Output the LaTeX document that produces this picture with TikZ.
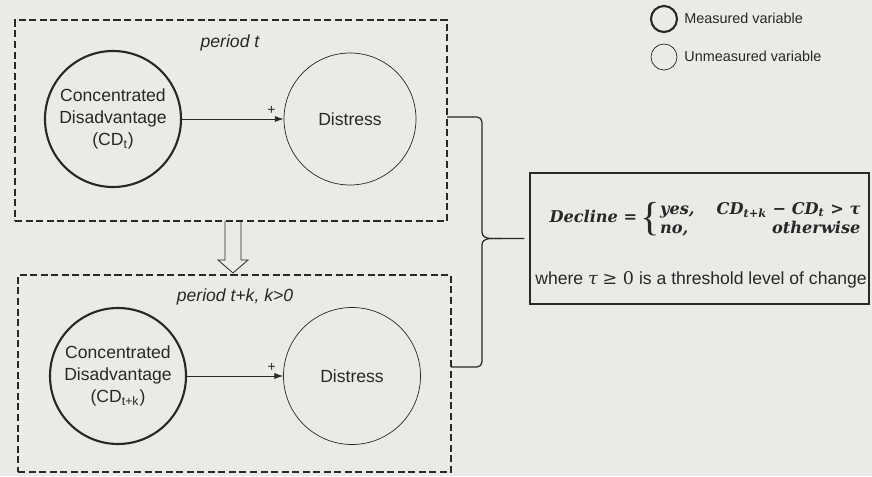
\documentclass[tikz,border=0pt]{standalone}
\usepackage{fontspec}
\setmainfont{Liberation Sans}
\newfontfamily\eqfont{DejaVu Serif}
\newfontfamily\bracefont{Liberation Serif}
\usetikzlibrary{arrows.meta}
\definecolor{paper}{RGB}{234,234,231}
\definecolor{ink}{RGB}{40,40,40}
\newcommand{\declineformula}{\fontsize{9.2}{11}\selectfont
  {\eqfont\bfseries\itshape Decline =}\hspace{2pt}%
  \raisebox{-4pt}{\bracefont\fontsize{23}{23}\selectfont\{}%
  \parbox[c]{114pt}{\eqfont\bfseries\itshape\baselineskip=11pt
    yes,\hfill CD\textsubscript{t+k} − CD\textsubscript{t} > τ\par
    no,\hfill otherwise}}
\tikzset{
  measured/.style={circle, draw=ink, line width=1.2pt, inner sep=0pt, align=center, text=ink},
  unmeasured/.style={circle, draw=ink, line width=0.4pt, inner sep=0pt, align=center, text=ink},
  periodbox/.style={draw=ink, line width=0.7pt, dash pattern=on 4pt off 2pt},
  rulebox/.style={draw=ink, line width=0.7pt},
  link/.style={draw=ink, line width=0.5pt, -{Latex[length=5pt,width=3.5pt]}},
  bracelink/.style={draw=ink, line width=0.7pt},
  blockarrow/.style={draw=ink, line width=0.45pt}
}
\begin{document}
\begin{tikzpicture}
        \useasboundingbox[fill=paper] (0,0) rectangle (17.440000,9.520000);
        {\fontsize{10}{12.5}\selectfont

        % Drawing box of period t
        \node [periodbox, minimum width=8.640000cm, minimum height=4.020000cm] (boxT) at (4.620000,7.110000) {};%
        \node [text=ink] (periodT) at (4.600000,8.660000) {\itshape period t};%

        % Marking variables of period t
        \node [measured, minimum size=2.720000cm] (cdT) at (2.260000,7.140000) {Concentrated\\Disadvantage\\(CD\textsubscript{t})};%
        \node [unmeasured, minimum size=2.640000cm] (distT) at (7.000000,7.140000) {Distress};%
        \draw [link] (cdT) -- (distT) node [pos=0.88, above, text=ink, inner sep=2.5pt] (plusT) {\footnotesize +};%

        % Drawing arrow from period t to period t+k
        \coordinate (arrTop) at (4.660000,5.100000);%
        \draw [blockarrow] (arrTop) ++(-0.160000,0) -- ++(0,-0.780000) -- ++(-0.140000,0) -- ++(0.300000,-0.260000) -- ++(0.300000,0.260000) -- ++(-0.140000,0) -- ++(0,0.780000);%

        % Drawing box of period t+k
        \node [periodbox, minimum width=8.660000cm, minimum height=3.940000cm] (boxK) at (4.690000,2.050000) {};%
        \node [text=ink] (periodK) at (4.700000,3.580000) {\itshape period t+k, k>0};%

        % Marking variables of period t+k
        \node [measured, minimum size=2.720000cm] (cdK) at (2.360000,2.000000) {Concentrated\\Disadvantage\\(CD\textsubscript{t+k})};%
        \node [unmeasured, minimum size=2.740000cm] (distK) at (7.040000,2.000000) {Distress};%
        \draw [link] (cdK) -- (distK) node [pos=0.88, above, text=ink, inner sep=2.5pt] (plusK) {\footnotesize +};%

        % Drawing rule box of decline
        \node [rulebox, minimum width=6.780000cm, minimum height=2.620000cm] (declineBox) at (13.990000,4.750000) {};%
        \node [text=ink, inner sep=0pt] (declineRule) at (14.100000,5.140000) {\declineformula};%
        \node [text=ink] (declineNote) at (14.020000,3.920000) {where {\eqfont\itshape τ} {\eqfont ≥ 0} is a threshold level of change};%

        % Drawing brace from both periods to decline
        \coordinate (braceT) at (8.940000,7.180000);%
        \coordinate (braceK) at (9.020000,2.180000);%
        \coordinate (braceTip) at (10.040000,4.750000);%
        \draw [bracelink] (braceT) -- (9.540000,7.180000) to [out=0,in=90] (9.640000,7.080000) -- (9.640000,4.880000) to [out=-90,in=180] (braceTip) -- ([xshift=-0.100000cm]declineBox.west);%
        \draw [bracelink] (braceTip) to [out=180,in=90] (9.640000,4.620000) -- (9.640000,2.280000) to [out=-90,in=0] (9.540000,2.180000) -- (braceK);%

        % Marking legend
        {\fontsize{8.2}{10}\selectfont
        \node [measured, minimum size=0.520000cm] (legMeasured) at (13.280000,9.140000) {};%
        \node [anchor=west, text=ink, inner sep=0pt] (legMeasuredText) at (13.680000,9.160000) {Measured variable};%
        \node [unmeasured, minimum size=0.520000cm] (legUnmeasured) at (13.280000,8.380000) {};%
        \node [anchor=west, text=ink, inner sep=0pt] (legUnmeasuredText) at (13.680000,8.400000) {Unmeasured variable};%
        }
        }
    \end{tikzpicture}
\end{document}
